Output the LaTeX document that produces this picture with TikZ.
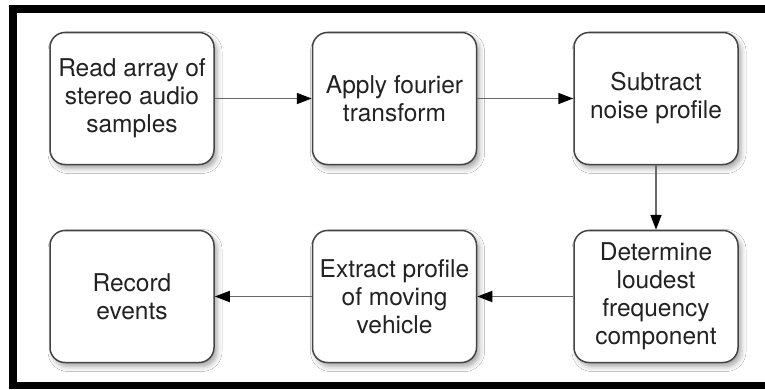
\documentclass[tikz,border=0pt]{standalone}
\usepackage{fontspec}
\setmainfont{TeX Gyre Heros}
\usetikzlibrary{arrows.meta,shadows.blur}
\definecolor{boxline}{HTML}{444444}
\definecolor{flowline}{HTML}{6A6A6A}
\definecolor{inktext}{HTML}{222222}
\tikzset{
  stepbox/.style={
    draw=boxline, line width=1.5pt, fill=white,
    rounded corners=15pt,
    minimum width=164pt, minimum height=132pt,
    inner sep=0pt, align=center, text=inktext,
    font=\fontsize{24.5pt}{28pt}\selectfont,
    blur shadow={shadow xshift=3pt, shadow yshift=-4pt,
                 shadow blur radius=5pt, shadow opacity=35}
  },
  flow/.style={
    draw=flowline, line width=1.6pt,
    -{Triangle[length=15pt,width=11pt,color=black]}
  }
}
\begin{document}
\begin{tikzpicture}[x=1pt,y=-1pt]
  \useasboundingbox (0,0) rectangle (765,389);
  \fill[white] (0,0) rectangle (765,389);
  % heavy frame, its right side runs off the page
  \begin{scope}
    \clip (0,0) rectangle (765,389);
    \draw[line width=8pt] (13,9) -- (800,9);
    \draw[line width=8pt] (13,5) -- (13,389);
    \draw[line width=7pt] (9,385.5) -- (800,385.5);
  \end{scope}

  % upper row
  \node[stepbox] (read)     at (132,98.5)  {Read array of\\stereo audio\\samples};
  \node[stepbox] (fourier)  at (394.5,98.5) {Apply fourier\\transform};
  \node[stepbox] (subtract) at (656,98.5)  {Subtract\\noise profile};

  % lower row
  \node[stepbox] (record)   at (132,296.5)  {Record\\events};
  \node[stepbox] (extract)  at (394.5,296.5) {Extract profile\\of moving\\vehicle};
  \node[stepbox] (loudest)  at (656,296.5)  {Determine\\loudest\\frequency\\component};

  % process flow
  \draw[flow] (read) -- (fourier);
  \draw[flow] (fourier) -- (subtract);
  \draw[flow] (subtract) -- (loudest);
  \draw[flow] (loudest) -- (extract);
  \draw[flow] (extract) -- (record);
\end{tikzpicture}
\end{document}
